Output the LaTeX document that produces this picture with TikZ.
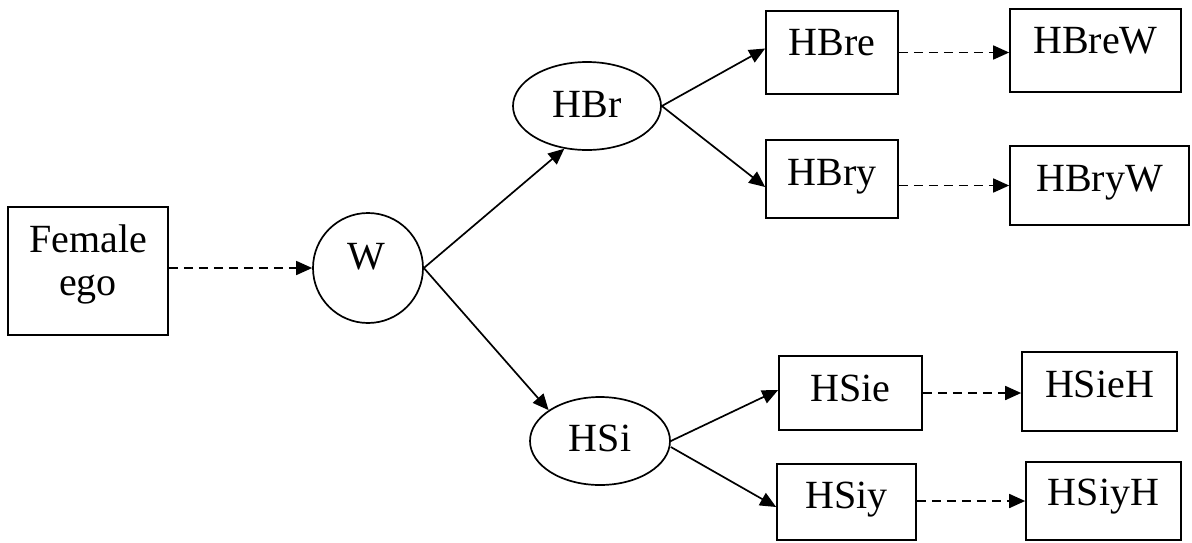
\documentclass[tikz,border=0pt]{standalone}
\usepackage{fontspec}
\setmainfont{Liberation Serif}
\usetikzlibrary{arrows.meta,shapes.geometric}
\begin{document}
\begin{tikzpicture}[x=0.5pt,y=-0.5pt,
  line width=0.85pt,
  box/.style={draw,rectangle,inner sep=0pt},
  oval/.style={draw,ellipse,inner sep=0pt},
  roundnode/.style={draw,circle,inner sep=0pt},
  lbl/.style={anchor=base,inner sep=0pt,font=\fontsize{20}{21.5}\selectfont},
  solidarr/.style={-{Triangle[length=8pt,width=7pt]}},
  dasharr/.style={dash pattern=on 4.5pt off 3pt,-{Triangle[length=8pt,width=7pt]}}]
\useasboundingbox (0,0) rectangle (1192,542);

% shapes
\node[box,minimum width=80pt,minimum height=64pt] (fe) at (88,271) {};
\node[roundnode,minimum size=55pt] (w) at (368,268) {};
\node[oval,minimum width=74pt,minimum height=44pt] (hbr) at (587,106) {};
\node[oval,minimum width=70pt,minimum height=44pt] (hsi) at (600,441) {};
\node[box,minimum width=66pt,minimum height=41.5pt] (hbre) at (832,52.5) {};
\node[box,minimum width=66pt,minimum height=39pt] (hbry) at (832,179) {};
\node[box,minimum width=85.5pt,minimum height=41.5pt] (hbrew) at (1095.5,50.5) {};
\node[box,minimum width=89.5pt,minimum height=39.5pt] (hbryw) at (1099.5,185.5) {};
\node[box,minimum width=71.5pt,minimum height=37pt] (hsie) at (850.5,393) {};
\node[box,minimum width=77.5pt,minimum height=39.5pt] (hsieh) at (1099.5,391.5) {};
\node[box,minimum width=69.5pt,minimum height=38pt] (hsiy) at (846.5,502) {};
\node[box,minimum width=77.5pt,minimum height=39pt] (hsiyh) at (1103.5,501) {};

% texts
\node[lbl] (fe-t1) at (88,252) {Female};
\node[lbl] (fe-t2) at (88,295) {ego};
\node[lbl] (w-t) at (366,269) {W};
\node[lbl] (hbr-t) at (587,117) {HBr};
\node[lbl] (hsi-t) at (600,451) {HSi};
\node[lbl] (hbre-t) at (832,55) {HBre};
\node[lbl] (hbry-t) at (832,185) {HBry};
\node[lbl] (hbrew-t) at (1095.5,53) {HBreW};
\node[lbl] (hbryw-t) at (1099.5,191) {HBryW};
\node[lbl] (hsie-t) at (850.5,401) {HSie};
\node[lbl] (hsieh-t) at (1099.5,397) {HSieH};
\node[lbl] (hsiy-t) at (846.5,508) {HSiy};
\node[lbl] (hsiyh-t) at (1103.5,505) {HSiyH};

% solid connectors
\draw[solidarr] (w.east) -- (hbr.242);
\draw[solidarr] (w.east) -- (hsi.149);
\draw[solidarr] (hbr.east) -- ([yshift=2pt]hbre.west);
\draw[solidarr] (hbr.east) -- ([yshift=-4pt]hbry.west);
\draw[solidarr] (hsi.east) -- ([yshift=1.5pt]hsie.west);
\draw[solidarr] ([yshift=-3pt]hsi.east) -- ([yshift=-2.5pt]hsiy.west);

% dashed connectors
\draw[dasharr] (w.west -| fe.east) -- (w.west);
\draw[dasharr] (hbre.east) -- (hbre.east -| hbrew.west);
\draw[dasharr] (hbryw.west -| hbry.east) -- (hbryw.west);
\draw[dasharr] (hsie.east) -- (hsie.east -| hsieh.west);
\draw[dasharr] (hsiyh.west -| hsiy.east) -- (hsiyh.west);
\end{tikzpicture}
\end{document}
